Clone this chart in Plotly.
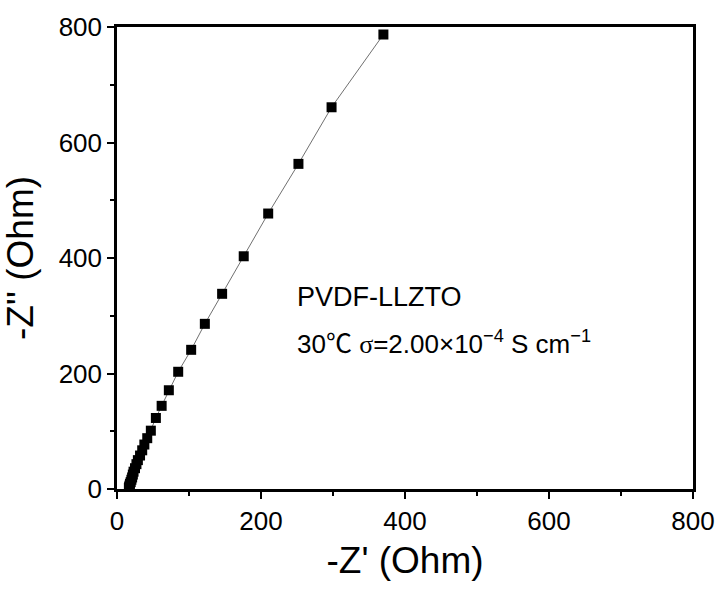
import plotly.graph_objects as go

# Nyquist data: -Z' (Ohm), -Z'' (Ohm)
z_real = [16.5, 17, 17.5, 18, 19, 20, 21, 22, 23, 25, 27, 29, 32, 35, 38, 42, 47,
          54, 62, 72, 85, 103, 122, 146, 176, 210, 252, 298, 370]
z_imag = [2, 4, 6, 9, 12, 16, 20, 25, 30, 36, 43, 50, 58, 67, 77, 88, 101,
          123, 144, 171, 203, 241, 286, 338, 403, 477, 563, 661, 787]

x_ticks = [0, 200, 400, 600, 800]
y_ticks = [0, 200, 400, 600, 800]

label_1 = "PVDF-LLZTO"
label_2 = ("30<span style=\"font-family:'Noto Sans CJK SC'\">℃</span> "
           "<span style=\"font-family:'Liberation Serif'\">σ</span>"
           "=2.00×10<sup>−4</sup> S cm<sup>−1</sup>")

font_family = "Liberation Sans, Arial, sans-serif"

fig = go.Figure()
fig.add_trace(go.Scatter(
    x=z_real, y=z_imag, mode="lines+markers",
    line=dict(color="#707070", width=1),
    marker=dict(symbol="square", size=10, color="black", line=dict(width=0)),
    showlegend=False,
))

axis_common = dict(
    showline=True, linecolor="black", linewidth=2.5, mirror=True,
    ticks="outside", ticklen=7, tickwidth=2, tickcolor="black",
    showgrid=False, zeroline=False,
    tickfont=dict(family=font_family, size=26, color="black"),
    minor=dict(ticks="outside", ticklen=4, tickwidth=2, tickcolor="black", dtick=100),
)

fig.update_xaxes(range=[0, 800], tickvals=x_ticks,
                 title=dict(text="-Z' (Ohm)", font=dict(family=font_family, size=37, color="black"), standoff=13),
                 **axis_common)
fig.update_yaxes(range=[0, 800], tickvals=y_ticks,
                 title=dict(text="-Z'' (Ohm)", font=dict(family=font_family, size=37, color="black"), standoff=18),
                 **axis_common)

fig.add_annotation(x=247, y=332, xref="x", yref="y", text=label_1, showarrow=False,
                   xanchor="left", yanchor="middle",
                   font=dict(family=font_family, size=27, color="black"))
fig.add_annotation(x=247, y=255, xref="x", yref="y", text=label_2, showarrow=False,
                   xanchor="left", yanchor="middle",
                   font=dict(family=font_family, size=26, color="black"))

fig.update_layout(
    width=727, height=590,
    margin=dict(l=117, r=29, t=23, b=101),
    plot_bgcolor="white", paper_bgcolor="white",
)

fig.write_html("out.html")
